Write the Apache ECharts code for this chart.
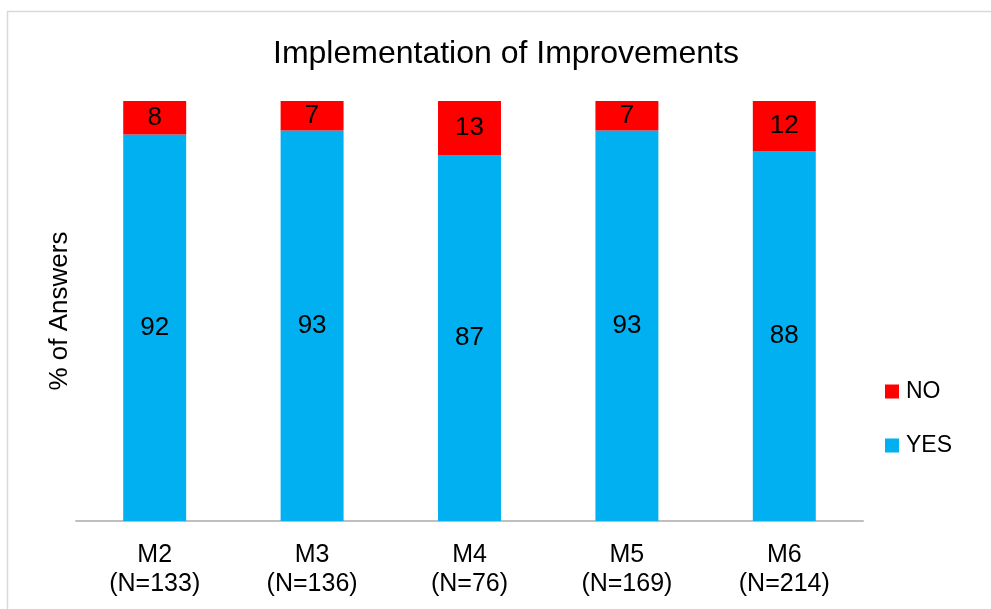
<!DOCTYPE html>
<html>
<head>
<meta charset="utf-8">
<script src="https://cdn.jsdelivr.net/npm/echarts@6/dist/echarts.min.js"></script>
<style>
  html, body { margin: 0; padding: 0; background: #fff; }
  #chart { width: 991px; height: 609px; }
</style>
</head>
<body>
<div id="chart"></div>
<script>
// Survey rounds and their respondent counts
const categories = ['M2', 'M3', 'M4', 'M5', 'M6'];
const sampleSizes = [133, 136, 76, 169, 214];
// Share of answers (%) per round
const yesPct = [92, 93, 87, 93, 88];
const noPct = [8, 7, 13, 7, 12];

const FONT = '"Liberation Sans", Arial, sans-serif';

const axisLabels = categories.map((c, i) => c + '\n(N=' + sampleSizes[i] + ')');

const chart = echarts.init(document.getElementById('chart'));
chart.setOption({
  animation: false,
  textStyle: { fontFamily: FONT, color: '#000' },
  title: {
    text: 'Implementation of Improvements',
    left: 268,
    top: 33,
    textStyle: { fontFamily: FONT, fontSize: 32, fontWeight: 'normal', color: '#000' }
  },
  graphic: [{
    type: 'rect',
    silent: true,
    shape: { x: 7.5, y: 11.5, width: 1100, height: 800 },
    style: { fill: 'none', stroke: '#d9d9d9', lineWidth: 1.5 }
  }],
  legend: {
    orient: 'vertical',
    left: 880,
    top: 375,
    data: ['NO', 'YES'],
    icon: 'rect',
    itemWidth: 14,
    itemHeight: 14,
    itemGap: 31,
    textStyle: { fontFamily: FONT, fontSize: 23, color: '#000', padding: [0, 0, 0, 2] }
  },
  grid: { left: 76, right: 128, top: 101, bottom: 88 },
  xAxis: {
    type: 'category',
    data: axisLabels,
    axisLine: { show: true, lineStyle: { color: '#bfbfbf', width: 2 } },
    axisTick: { show: false },
    axisLabel: {
      fontFamily: FONT, fontSize: 25, color: '#000',
      lineHeight: 29, margin: 20, interval: 0
    }
  },
  yAxis: {
    type: 'value',
    min: 0,
    max: 100,
    name: '% of Answers',
    nameLocation: 'middle',
    nameGap: 3,
    nameRotate: 90,
    nameTextStyle: { fontFamily: FONT, fontSize: 26, color: '#000' },
    axisLine: { show: false },
    axisTick: { show: false },
    axisLabel: { show: false },
    splitLine: { show: false }
  },
  series: [
    {
      name: 'YES',
      type: 'bar',
      stack: 'total',
      barWidth: '40%',
      data: yesPct,
      itemStyle: { color: '#00b0f0' },
      label: { show: true, position: 'inside', fontFamily: FONT, fontSize: 26, color: '#000', padding: [4, 0, 0, 0] }
    },
    {
      name: 'NO',
      type: 'bar',
      stack: 'total',
      barWidth: '40%',
      data: noPct,
      itemStyle: { color: '#ff0000' },
      label: { show: true, position: 'inside', fontFamily: FONT, fontSize: 26, color: '#000', padding: [2, 0, 0, 0] }
    }
  ]
});
</script>
</body>
</html>
